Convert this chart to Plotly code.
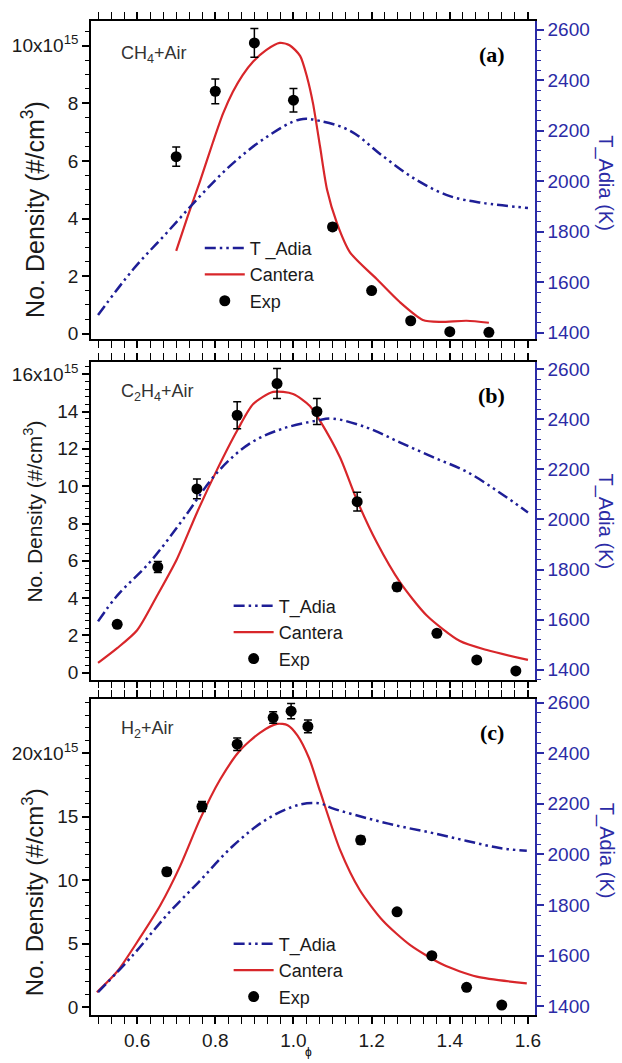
import plotly.graph_objects as go
from plotly.subplots import make_subplots

# ---------------- Panel (a) CH4 + Air ----------------
a_exp_phi = [0.70, 0.80, 0.90, 1.00, 1.10, 1.20, 1.30, 1.40, 1.50]
a_exp_n = [6.15, 8.42, 10.1, 8.11, 3.71, 1.50, 0.45, 0.07, 0.05]
a_exp_err = [0.33, 0.43, 0.50, 0.41, 0.12, 0.0, 0.0, 0.0, 0.0]
a_can_phi = [0.70, 0.73, 0.761, 0.794, 0.82, 0.845, 0.87, 0.897, 0.93, 0.965, 0.99, 1.017, 1.035, 1.05, 1.068, 1.086, 1.111, 1.145, 1.213, 1.272, 1.331, 1.375, 1.443, 1.50]
a_can_n = [2.88, 4.1, 5.3, 6.65, 7.65, 8.4, 8.98, 9.45, 9.85, 10.1, 10.02, 9.65, 8.9, 8.0, 6.5, 5.0, 3.85, 2.82, 1.9, 1.1, 0.48, 0.41, 0.45, 0.38]
a_T_phi = [0.50, 0.59, 0.676, 0.761, 0.845, 0.932, 1.017, 1.068, 1.145, 1.23, 1.316, 1.40, 1.485, 1.60]
a_T = [1470, 1651, 1796, 1941, 2071, 2176, 2245, 2239, 2200, 2098, 2004, 1941, 1914, 1894]

# ---------------- Panel (b) C2H4 + Air ----------------
b_exp_phi = [0.549, 0.653, 0.753, 0.856, 0.958, 1.06, 1.163, 1.265, 1.367, 1.469, 1.569]
b_exp_n = [2.6, 5.67, 9.85, 13.8, 15.5, 14.0, 9.17, 4.6, 2.12, 0.69, 0.10]
b_exp_err = [0.15, 0.3, 0.53, 0.72, 0.8, 0.7, 0.5, 0.2, 0.0, 0.0, 0.0]
b_can_phi = [0.50, 0.549, 0.60, 0.651, 0.702, 0.753, 0.804, 0.856, 0.897, 0.948, 0.999, 1.042, 1.068, 1.119, 1.162, 1.213, 1.272, 1.341, 1.426, 1.495, 1.60]
b_can_n = [0.53, 1.32, 2.28, 4.13, 6.1, 8.58, 10.86, 12.98, 14.4, 15.05, 14.94, 14.3, 13.5, 11.55, 9.27, 6.99, 4.87, 3.07, 1.7, 1.22, 0.69]
b_T_phi = [0.50, 0.549, 0.633, 0.717, 0.804, 0.889, 0.973, 1.06, 1.10, 1.188, 1.272, 1.357, 1.444, 1.528, 1.60]
b_T = [1593, 1696, 1830, 2000, 2186, 2304, 2363, 2395, 2403, 2367, 2308, 2249, 2190, 2107, 2028]

# ---------------- Panel (c) H2 + Air ----------------
c_exp_phi = [0.676, 0.766, 0.856, 0.948, 0.994, 1.037, 1.172, 1.265, 1.354, 1.443, 1.533]
c_exp_n = [10.66, 15.8, 20.7, 22.8, 23.3, 22.1, 13.15, 7.5, 4.05, 1.56, 0.16]
c_exp_err = [0.3, 0.4, 0.5, 0.45, 0.6, 0.5, 0.3, 0.2, 0.0, 0.0, 0.0]
c_can_phi = [0.497, 0.549, 0.607, 0.659, 0.71, 0.761, 0.812, 0.863, 0.914, 0.958, 0.985, 1.01, 1.04, 1.068, 1.119, 1.17, 1.229, 1.298, 1.382, 1.469, 1.597]
c_can_n = [1.17, 2.8, 5.45, 8.0, 11.1, 14.8, 17.9, 20.2, 21.6, 22.3, 22.2, 21.4, 19.6, 17.0, 12.4, 9.2, 6.8, 4.9, 3.35, 2.4, 1.87]
c_T_phi = [0.50, 0.59, 0.676, 0.761, 0.845, 0.932, 1.017, 1.068, 1.10, 1.188, 1.272, 1.357, 1.444, 1.528, 1.597]
c_T = [1455, 1603, 1760, 1896, 2033, 2139, 2197, 2201, 2182, 2143, 2111, 2084, 2053, 2025, 2014]

panel_labels = ["(a)", "(b)", "(c)"]
fuel_labels = ["CH<sub>4</sub>+Air", "C<sub>2</sub>H<sub>4</sub>+Air", "H<sub>2</sub>+Air"]
t_names = ["T _Adia", "T_Adia", "T_Adia"]
left_dtick = [2, 2, 5]
left_top_alias = [{"10": "10x10<sup>15</sup>"}, {"16": "16x10<sup>15</sup>"}, {"20": "20x10<sup>15</sup>"}]

RED = "#d8262a"
NAVY = "#1e1e96"
BLUE = "#2b2ba6"
FONT = "Liberation Sans, Arial, sans-serif"

fig = make_subplots(rows=3, cols=1, specs=[[{"secondary_y": True}]] * 3, vertical_spacing=0.02)

panels = [
    (a_exp_phi, a_exp_n, a_exp_err, a_can_phi, a_can_n, a_T_phi, a_T),
    (b_exp_phi, b_exp_n, b_exp_err, b_can_phi, b_can_n, b_T_phi, b_T),
    (c_exp_phi, c_exp_n, c_exp_err, c_can_phi, c_can_n, c_T_phi, c_T),
]
legend_ids = ["legend", "legend2", "legend3"]

for i, (ex, ey, ee, cx, cy, tx, ty) in enumerate(panels):
    r = i + 1
    lg = legend_ids[i]
    fig.add_trace(go.Scatter(x=tx, y=ty, mode="lines", name=t_names[i], legend=lg,
                             line=dict(color=NAVY, width=2.5, dash="11px,4px,2.5px,4px,2.5px,4px", shape="spline")),
                  row=r, col=1, secondary_y=True)
    fig.add_trace(go.Scatter(x=cx, y=cy, mode="lines", name="Cantera", legend=lg,
                             line=dict(color=RED, width=2.2, shape="spline", smoothing=0.7)),
                  row=r, col=1, secondary_y=False)
    fig.add_trace(go.Scatter(x=ex, y=ey, mode="markers", name="Exp", legend=lg,
                             marker=dict(color="black", size=11),
                             error_y=dict(type="data", array=ee, color="black", thickness=1.5, width=4)),
                  row=r, col=1, secondary_y=False)

# Layout geometry
doms = [(0.6796, 1.0), (0.3373, 0.6567), (0.0, 0.3184)]
x_range = [0.482, 1.618]
left_ranges = [[-0.2, 10.86], [-0.37, 16.64], [-0.62, 24.3]]
left_minor = [0.5, 0.4, 1.0]
right_ranges = [[1373, 2635], [1360, 2628], [1365, 2616]]
title_centers_px = [207, 512, 897]
title_sizes = [25, 21, 24]
rtitle_centers_px = [180, 522, 855]

for i in range(3):
    xa = "xaxis" if i == 0 else f"xaxis{i+1}"
    ya = "yaxis" if i == 0 else f"yaxis{2*i+1}"
    ya2 = f"yaxis{2*i+2}"
    d = doms[i]
    fig.layout[xa].update(domain=[0, 1], range=x_range,
                          showline=True, linecolor="black", linewidth=1.5, mirror="allticks",
                          ticks="outside", ticklen=7, tickwidth=1.5, tickcolor="black",
                          tickmode="linear", tick0=0.6, dtick=0.2, tickformat=".1f",
                          minor=dict(ticks="outside", ticklen=4, tickwidth=1.2, tickcolor="black",
                                     dtick=0.1 / 3, showgrid=False),
                          showticklabels=(i == 2), showgrid=False, zeroline=False,
                          tickfont=dict(family=FONT, size=19, color="#1a1a1a"))
    fig.layout[ya].update(domain=list(d), range=left_ranges[i],
                          showline=True, linecolor="black", linewidth=1.5, mirror=False,
                          ticks="outside", ticklen=7, tickwidth=1.5, tickcolor="black",
                          tickmode="linear", tick0=0, dtick=left_dtick[i],
                          minor=dict(ticks="outside", ticklen=4, tickwidth=1.2, tickcolor="black",
                                     dtick=left_minor[i], showgrid=False),
                          labelalias=left_top_alias[i],
                          showgrid=False, zeroline=False,
                          tickfont=dict(family=FONT, size=19, color="#1a1a1a"))
    fig.layout[ya2].update(range=right_ranges[i], side="right",
                           showline=True, linecolor=BLUE, linewidth=1.5,
                           ticks="outside", ticklen=7, tickwidth=1.5, tickcolor=BLUE,
                           tickmode="linear", tick0=1400, dtick=200,
                           minor=dict(ticks="outside", ticklen=4, tickwidth=1.2, tickcolor=BLUE,
                                      dtick=40, showgrid=False),
                           showgrid=False, zeroline=False,
                           tickfont=dict(family=FONT, size=19, color=BLUE))

    xd = "x domain" if i == 0 else f"x{i+1} domain"
    yd = "y domain" if i == 0 else f"y{2*i+1} domain"
    fig.add_annotation(xref=xd, yref=yd, x=0.903, y=0.894, xanchor="center", yanchor="middle",
                       text="<b>" + panel_labels[i] + "</b>",
                       showarrow=False, font=dict(family="Liberation Serif, Times New Roman, serif", size=22, color="black"))
    fig.add_annotation(xref=xd, yref=yd, x=0.062, y=[0.894, 0.905, 0.903][i], text=fuel_labels[i],
                       xanchor="left", yanchor="middle", showarrow=False, font=dict(family=FONT, size=18, color="#333333"))
    fig.add_annotation(xref="paper", yref="paper", x=(33 - 91) / 444, y=(1021 - title_centers_px[i]) / 1005,
                       xanchor="center", yanchor="middle",
                       text="No. Density (#/cm<sup>3</sup>)",
                       textangle=-90, showarrow=False, font=dict(family=FONT, size=title_sizes[i], color="#1a1a1a"))
    fig.add_annotation(xref="paper", yref="paper", x=(606 - 91) / 444, y=(1021 - rtitle_centers_px[i]) / 1005,
                       xanchor="center", yanchor="middle",
                       text="T_Adia (K)",
                       textangle=90, showarrow=False, font=dict(family=FONT, size=20, color=BLUE))

fig.add_annotation(xref="paper", yref="paper", x=(308 - 91) / 444, y=(1021 - 1058) / 1005, text="ϕ",
                   xanchor="center", yanchor="middle",
                   showarrow=False, font=dict(family=FONT, size=12, color="black"))

leg_common = dict(xanchor="left", yanchor="top", bgcolor="rgba(0,0,0,0)", borderwidth=0,
                  font=dict(family=FONT, size=18, color="#1a1a1a"), tracegroupgap=0, itemwidth=40)
fig.update_layout(
    width=622, height=1063,
    margin=dict(l=91, r=87, t=16, b=42),
    paper_bgcolor="white", plot_bgcolor="white",
    showlegend=True,
    legend=dict(x=0.245, y=0.79, **leg_common),
    legend2=dict(x=0.31, y=0.43, **leg_common),
    legend3=dict(x=0.31, y=0.09, **leg_common),
)

fig.write_html("out.html")
